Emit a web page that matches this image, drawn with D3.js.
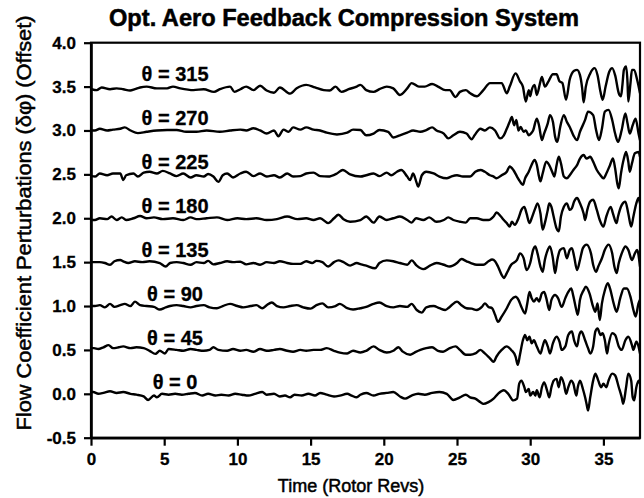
<!DOCTYPE html>
<html>
<head>
<meta charset="utf-8">
<script src="https://cdn.jsdelivr.net/npm/d3@7"></script>
<style>
  body { margin: 0; background: #fff; }
  svg { display: block; }
  .tick text { font-family: "Liberation Sans", Arial, sans-serif; font-weight: bold; font-size: 17px; fill: #000; stroke: #000; stroke-width: 0.3px; }
</style>
</head>
<body>
<div id="chart"></div>
<script>
// Sensor angles and the offset each trace is drawn at
const angles = [0, 45, 90, 135, 180, 225, 270, 315];
const offsets = [0.0, 0.5, 1.0, 1.5, 2.0, 2.5, 3.0, 3.5];

// Tick labels
const xTicks = [0, 5, 10, 15, 20, 25, 30, 35];
const yTicks = [-0.5, 0.0, 0.5, 1.0, 1.5, 2.0, 2.5, 3.0, 3.5, 4.0];

// Perturbation traces, [time (rotor revs), delta phi]
const theta0 = [[0.05,0.02],[0.15,0.02],[0.5,0.0],[0.85,0.01],[1.3,0.03],[1.75,0.01],[2.2,0.02],[2.7,0.0],[3.1,-0.01],[3.6,-0.03],[3.9,-0.07],[4.3,-0.02],[4.5,-0.04],[4.85,0.0],[5.3,-0.01],[5.75,0.0],[6.2,-0.01],[6.65,0.0],[7.1,0.01],[7.6,-0.02],[8.0,0.0],[8.5,-0.02],[8.9,-0.01],[9.4,-0.02],[9.85,0.0],[10.3,-0.01],[10.75,-0.02],[11.2,0.0],[11.7,0.02],[12.0,-0.01],[12.5,0.0],[12.9,-0.03],[13.25,-0.02],[13.6,-0.04],[13.9,-0.01],[14.4,-0.02],[14.85,0.0],[15.3,-0.02],[15.65,0.01],[16.1,-0.01],[16.6,-0.03],[17.0,-0.02],[17.5,0.0],[17.8,-0.02],[18.15,-0.04],
  [18.4,-0.01],[18.8,0.01],[19.3,-0.02],[19.7,0.0],[20.2,0.01],[20.65,0.02],[21.1,-0.03],[21.45,-0.055],[21.9,-0.02],[22.35,0.0],[22.8,-0.01],[23.3,0.01],[23.8,0.02],[24.3,0.0],[24.75,-0.07],[25.2,-0.04],[25.6,-0.01],
  [25.9,-0.04],[26.25,-0.055],[26.6,-0.095],[26.8,-0.115],[27.15,-0.095],[27.5,-0.055],[27.8,0.0],[28.2,0.04],[28.5,0.0],[28.85,-0.075],[29.1,-0.055],[29.25,0.115],[29.4,0.15],[29.6,0.075],[29.7,0.02],[29.9,0.055],[30.0,-0.02],[30.2,0.02],[30.35,-0.02],[30.45,0.04],[30.65,-0.04],[30.8,0.075],[30.95,0.13],[31.15,0.04],[31.3,-0.04],[31.45,0.075],[31.6,0.15],[31.8,0.17],[31.95,0.075],[32.1,0.19],[32.3,0.115],[32.45,0.0],[32.6,0.075],[32.8,0.15],[32.95,0.115],[33.15,-0.02],[33.25,0.075],[33.4,0.15],[33.6,0.055],[33.75,-0.04],[33.85,-0.115],[33.95,-0.19],[34.1,-0.04],[34.3,0.15],[34.45,0.23],[34.65,0.15],[34.85,0.075],[35.0,0.115],[35.2,0.075],[35.35,0.15],[35.6,0.23],[35.8,0.21],[36.05,0.075],[36.25,-0.04],[36.35,-0.115],[36.55,0.075],[36.7,0.23],[36.9,0.15],[37.0,-0.04],[37.1,-0.075],[37.25,0.075],[37.4,0.15],[37.5,0.115]];

const theta45 = [[0.05,0.02],[0.2,0.02],[0.5,0.01],[0.85,0.03],[1.2,0.055],[1.5,0.02],[1.9,0.03],[2.2,0.04],[2.7,0.02],[3.1,0.03],[3.6,0.02],[4.0,-0.01],[4.4,-0.045],[4.7,-0.01],[5.05,-0.04],[5.3,0.01],[5.85,0.0],[6.3,-0.01],[6.8,0.01],[7.2,0.0],[7.7,-0.01],[8.1,0.0],[8.36,0.03],[8.7,0.0],[9.3,-0.01],[9.7,0.01],[10.2,-0.01],[10.6,0.0],[11.1,-0.02],[11.55,0.01],[12.0,-0.01],[12.5,0.0],[12.9,0.01],[13.4,-0.01],[13.8,-0.02],[14.3,0.0],[14.7,-0.01],[15.2,0.0],[15.65,0.0],[16.1,0.02],[16.6,-0.01],[17.0,-0.03],[17.5,-0.04],[17.9,-0.01],
  [18.4,-0.03],[18.8,-0.01],[19.3,0.04],[19.7,0.0],[20.2,-0.03],[20.65,-0.01],[21.0,0.03],[21.3,-0.02],[21.8,-0.055],[22.1,-0.03],[22.5,0.0],[22.9,0.02],[23.3,0.03],[23.7,-0.01],[24.05,-0.02],[24.5,0.02],[24.9,0.04],[25.2,0.0],[25.6,-0.055],
  [25.9,-0.055],[26.25,-0.04],[26.6,0.0],[26.9,-0.04],[27.25,-0.095],[27.5,-0.135],[27.7,-0.075],[28.05,0.0],[28.4,0.04],[28.7,0.0],[29.0,-0.075],[29.15,-0.17],[29.3,-0.055],[29.5,0.11],[29.65,0.17],[29.8,0.11],[29.95,0.15],[30.1,0.075],[30.25,0.11],[30.45,0.04],[30.7,-0.04],[30.85,0.04],[31.0,0.11],[31.2,0.04],[31.35,-0.04],[31.55,0.075],[31.8,0.15],[32.0,0.095],[32.15,0.0],[32.4,0.04],[32.6,0.17],[32.85,0.21],[33.0,0.11],[33.2,0.04],[33.35,0.17],[33.5,0.21],[33.75,0.11],[33.95,0.02],[34.1,-0.04],[34.3,0.04],[34.45,0.21],[34.6,0.245],[34.8,0.17],[34.95,0.19],[35.1,0.11],[35.25,-0.04],[35.35,0.055],[35.6,0.19],[35.8,0.17],[36.05,0.04],[36.25,0.0],[36.5,0.11],[36.7,0.15],[36.95,0.055],[37.05,0.0],[37.25,0.095],[37.4,0.04],[37.5,-0.04]];

const theta90 = [[0.05,0.0],[0.27,0.0],[0.6,0.01],[0.95,-0.015],[1.3,0.025],[1.6,-0.01],[2.0,0.01],[2.3,0.025],[2.7,0.0],[3.0,0.05],[3.35,0.01],[3.8,0.0],[4.3,-0.01],[4.7,-0.04],[5.1,-0.015],[5.4,0.0],[5.85,0.01],[6.3,0.0],[6.8,-0.015],[7.2,0.0],[7.7,0.01],[8.1,-0.015],[8.6,-0.025],[9.0,0.0],[9.5,0.025],[10.0,0.0],[10.4,-0.015],[10.9,0.0],[11.3,0.01],[11.7,-0.025],[12.0,0.01],[12.35,0.04],[12.7,0.0],[13.15,-0.015],[13.6,0.0],[14.05,0.01],[14.5,-0.015],[15.0,-0.03],[15.4,0.01],[15.8,0.03],[16.2,-0.015],[16.7,0.0],[17.0,0.025],[17.5,-0.025],[17.9,-0.04],
  [18.4,-0.025],[18.8,-0.01],[19.3,0.025],[19.7,0.04],[20.2,0.0],[20.65,-0.015],[21.1,0.0],[21.6,-0.01],[21.9,0.025],[22.25,-0.045],[22.6,-0.075],[22.9,-0.015],[23.4,0.0],[23.8,-0.025],[24.2,-0.045],[24.5,-0.01],[25.0,0.05],[25.3,0.01],[25.65,-0.025],
  [26.0,-0.03],[26.35,-0.045],[26.7,-0.01],[26.9,0.03],[27.15,-0.01],[27.4,-0.025],[27.6,-0.1],[27.8,-0.18],[28.05,-0.12],[28.4,-0.025],[28.7,0.07],[29.0,0.105],[29.2,0.07],[29.4,-0.01],[29.65,-0.085],[29.8,0.03],[29.95,0.16],[30.1,0.09],[30.25,0.05],[30.45,0.09],[30.6,0.05],[30.8,0.145],[30.95,0.16],[31.1,0.09],[31.3,-0.045],[31.45,0.07],[31.7,0.125],[31.9,0.09],[32.15,-0.01],[32.4,0.09],[32.6,0.16],[32.8,0.2],[32.95,0.11],[33.15,-0.045],[33.25,-0.1],[33.4,0.07],[33.65,0.18],[33.8,0.22],[34.05,0.145],[34.3,-0.01],[34.45,-0.065],[34.6,0.03],[34.75,-0.16],[34.9,0.03],[35.1,0.18],[35.3,0.26],[35.45,0.2],[35.7,0.03],[35.9,-0.065],[36.15,0.09],[36.4,0.2],[36.6,0.2],[36.85,0.105],[37.05,-0.045],[37.2,-0.12],[37.4,0.03],[37.5,0.07]];

const theta135 = [[0.05,0.0],[0.27,0.0],[0.6,0.0],[0.95,-0.01],[1.3,-0.03],[1.6,0.01],[2.0,0.025],[2.2,0.01],[2.55,-0.01],[3.0,0.01],[3.5,0.0],[4.0,0.01],[4.7,-0.01],[5.1,-0.05],[5.4,-0.01],[5.85,0.0],[6.3,-0.01],[6.8,-0.03],[7.2,0.0],[7.7,-0.01],[8.0,0.015],[8.36,-0.025],[8.8,-0.01],[9.3,0.01],[9.7,0.0],[10.2,0.005],[10.6,-0.025],[11.1,-0.01],[11.55,-0.03],[12.0,0.0],[12.5,-0.01],[12.9,0.01],[13.4,-0.01],[13.8,-0.02],[14.3,-0.02],[14.7,0.01],[15.1,-0.01],[15.4,0.015],[15.8,0.0],[16.2,-0.05],[16.6,0.0],[16.9,0.02],[17.25,0.0],[17.7,-0.04],[18.15,-0.01],
  [18.45,-0.025],[18.8,-0.04],[19.4,-0.07],[19.7,-0.01],[20.2,0.02],[20.65,0.01],[21.1,-0.01],[21.6,-0.03],[21.9,0.02],[22.25,-0.04],[22.7,-0.08],[23.15,-0.04],[23.6,-0.01],[24.1,-0.03],[24.5,-0.05],[25.0,-0.01],[25.3,0.035],[25.65,0.01],
  [25.95,-0.01],[26.35,-0.03],[26.8,-0.03],[27.15,0.01],[27.4,0.03],[27.6,0.01],[27.8,-0.05],[28.05,-0.145],[28.2,-0.18],[28.4,-0.125],[28.7,-0.03],[29.1,0.025],[29.3,0.1],[29.55,0.045],[29.75,-0.09],[30.0,-0.01],[30.2,0.14],[30.35,0.18],[30.5,0.1],[30.7,-0.05],[30.85,-0.11],[31.0,0.025],[31.2,0.14],[31.35,0.18],[31.55,0.045],[31.7,-0.125],[31.85,0.025],[32.05,0.14],[32.3,0.16],[32.5,0.045],[32.7,0.14],[32.85,0.16],[33.0,0.065],[33.2,-0.09],[33.4,0.025],[33.6,0.16],[33.85,0.2],[34.15,0.1],[34.3,-0.03],[34.5,-0.11],[34.65,-0.05],[34.9,0.045],[35.1,0.14],[35.35,0.2],[35.6,0.1],[35.75,-0.05],[35.9,-0.125],[36.05,-0.01],[36.3,0.12],[36.5,0.18],[36.7,0.14],[36.95,0.025],[37.15,0.1],[37.3,0.14],[37.5,-0.05]];

const theta180 = [[0.05,-0.02],[0.27,-0.02],[0.6,0.0],[1.1,-0.01],[1.4,0.02],[1.75,-0.02],[2.1,0.01],[2.4,-0.02],[2.9,0.0],[3.35,0.025],[3.8,0.0],[4.3,0.01],[4.9,-0.01],[5.6,0.0],[6.3,-0.02],[6.8,0.01],[7.2,-0.01],[7.9,0.0],[8.6,0.01],[9.3,-0.02],[10.0,0.0],[10.6,-0.01],[11.3,0.0],[12.0,-0.02],[12.7,-0.01],[13.4,0.02],[14.1,-0.01],[14.7,0.0],[15.2,-0.02],[15.65,0.0],[16.2,-0.055],[16.6,0.0],[16.9,0.04],[17.25,-0.01],[17.7,-0.04],
  [18.4,-0.02],[18.8,0.02],[19.3,-0.05],[19.7,0.02],[20.2,-0.02],[20.65,0.0],[21.1,0.02],[21.6,-0.02],[21.9,-0.05],[22.2,0.0],[22.7,-0.02],[23.1,0.01],[23.6,-0.04],[24.1,-0.02],[24.4,0.01],[24.75,-0.02],[25.2,-0.04],[25.6,-0.05],
  [25.9,0.0],[26.35,0.0],[26.8,-0.02],[27.15,-0.02],[27.5,0.02],[27.7,0.065],[28.0,0.02],[28.2,-0.02],[28.4,-0.055],[28.6,-0.095],[28.75,-0.04],[28.95,-0.075],[29.2,0.0],[29.4,0.095],[29.6,0.13],[29.75,0.055],[29.95,-0.055],[30.1,0.0],[30.35,0.115],[30.5,0.17],[30.7,0.055],[30.85,-0.13],[31.0,-0.055],[31.2,0.095],[31.3,0.17],[31.45,0.13],[31.6,0.02],[31.8,-0.115],[31.95,-0.15],[32.1,0.02],[32.3,0.13],[32.5,0.17],[32.7,0.095],[32.85,0.115],[33.0,0.19],[33.2,0.23],[33.4,0.17],[33.65,0.055],[33.75,-0.02],[33.9,0.095],[34.1,0.19],[34.3,0.21],[34.55,0.095],[34.75,-0.02],[35.0,-0.095],[35.2,0.02],[35.5,0.13],[35.65,0.055],[35.9,-0.055],[36.0,0.02],[36.25,0.15],[36.5,0.19],[36.7,0.055],[36.9,-0.095],[37.05,0.02],[37.25,0.17],[37.4,0.23],[37.5,0.17]];

const theta225 = [[0.05,-0.02],[0.27,-0.025],[0.6,0.01],[1.1,-0.01],[1.5,0.01],[2.0,0.01],[2.2,-0.065],[2.4,-0.01],[2.9,0.01],[3.2,-0.025],[3.6,0.02],[4.0,0.03],[4.5,0.01],[4.9,0.04],[5.4,0.01],[5.85,-0.02],[6.3,0.01],[6.8,-0.035],[7.2,-0.01],[7.7,-0.025],[8.0,0.005],[8.36,-0.025],[8.7,-0.085],[9.0,-0.01],[9.3,0.01],[9.7,-0.035],[10.2,0.01],[10.6,0.03],[11.1,-0.02],[11.55,0.01],[12.0,-0.025],[12.5,-0.01],[12.9,-0.035],[13.4,0.01],[13.8,-0.025],[14.3,-0.02],[14.7,0.01],[15.2,0.02],[15.65,-0.02],[16.2,-0.025],[16.8,0.01],[17.2,0.05],[17.7,0.0],
  [18.4,-0.025],[18.8,-0.01],[19.3,0.01],[19.7,-0.02],[20.2,0.02],[20.5,-0.01],[20.9,0.03],[21.2,0.05],[21.6,-0.025],[21.8,-0.065],[22.0,0.01],[22.25,-0.1],[22.35,-0.14],[22.6,-0.01],[22.9,0.03],[23.4,0.01],[23.8,-0.025],[24.3,-0.045],[24.6,-0.025],[25.0,-0.01],[25.4,-0.025],
  [25.9,-0.025],[26.25,0.03],[26.6,0.05],[26.9,0.03],[27.25,-0.01],[27.5,-0.025],[27.7,-0.045],[28.05,-0.01],[28.4,0.03],[28.6,0.09],[28.85,0.05],[29.1,-0.025],[29.3,-0.08],[29.5,-0.12],[29.65,-0.045],[29.9,0.03],[30.1,0.11],[30.3,0.165],[30.45,0.11],[30.6,-0.025],[30.7,-0.08],[30.85,0.01],[31.1,0.145],[31.3,0.105],[31.5,0.03],[31.65,-0.025],[31.8,0.105],[31.95,0.2],[32.1,0.125],[32.3,-0.025],[32.5,-0.045],[32.7,-0.01],[32.95,0.05],[33.2,0.105],[33.4,0.18],[33.65,0.22],[33.85,0.18],[34.1,0.2],[34.3,0.145],[34.55,0.05],[34.8,-0.01],[35.0,-0.045],[35.2,0.01],[35.45,0.105],[35.65,0.18],[35.8,0.07],[35.95,-0.105],[36.05,-0.16],[36.2,0.01],[36.4,0.18],[36.55,0.255],[36.7,0.145],[36.8,0.03],[36.95,0.125],[37.15,0.24],[37.4,0.255],[37.5,0.2]];

const theta270 = [[0.05,0.0],[0.27,0.0],[0.6,0.02],[1.1,0.0],[1.5,0.01],[2.0,0.02],[2.3,0.035],[2.7,0.0],[3.2,-0.03],[3.8,-0.015],[4.5,0.0],[5.2,0.005],[5.85,0.005],[6.5,-0.015],[7.2,-0.015],[7.9,0.0],[8.8,-0.015],[9.5,0.0],[10.2,0.01],[10.6,0.0],[11.1,0.025],[11.55,0.0],[12.0,-0.035],[12.5,0.0],[12.8,-0.065],[13.15,0.01],[13.5,-0.015],[13.8,0.035],[14.3,0.01],[14.7,0.035],[15.2,0.01],[15.65,0.0],[16.1,-0.025],[16.8,-0.045],[17.5,-0.025],[17.9,0.01],
  [18.4,0.005],[18.8,-0.055],[19.3,-0.035],[19.7,0.005],[20.3,-0.015],[20.65,-0.08],[21.1,-0.055],[21.6,-0.025],[22.0,0.0],[22.5,-0.015],[22.9,0.005],[23.3,0.035],[23.6,0.0],[24.1,-0.035],[24.4,-0.09],[24.75,-0.055],[25.2,-0.015],[25.65,-0.035],
  [26.0,-0.1],[26.2,-0.055],[26.6,0.02],[26.9,0.0],[27.25,0.035],[27.6,0.0],[27.95,-0.09],[28.2,-0.055],[28.4,0.02],[28.6,0.1],[28.75,0.155],[28.9,0.06],[29.05,0.12],[29.2,0.0],[29.35,0.04],[29.55,-0.015],[29.7,0.0],[29.9,-0.055],[30.05,-0.035],[30.2,0.0],[30.45,0.135],[30.6,0.06],[30.8,-0.11],[30.95,-0.035],[31.2,0.08],[31.35,0.175],[31.55,0.1],[31.7,-0.07],[31.85,-0.13],[32.05,0.04],[32.3,0.175],[32.5,0.1],[32.7,0.04],[32.95,-0.055],[33.2,-0.11],[33.4,-0.015],[33.75,0.12],[33.95,0.215],[34.3,0.175],[34.5,0.005],[34.7,-0.11],[34.9,0.02],[35.1,0.215],[35.35,0.235],[35.6,0.12],[35.8,-0.035],[36.0,-0.13],[36.25,0.005],[36.5,0.195],[36.65,0.08],[36.8,-0.035],[37.0,0.06],[37.2,0.135],[37.4,-0.035],[37.5,-0.11]];

const theta315 = [[0.05,-0.03],[0.39,-0.04],[0.73,-0.01],[1.3,-0.03],[1.75,-0.02],[2.2,-0.03],[2.67,-0.045],[3.0,-0.03],[3.35,-0.01],[3.8,0.0],[4.5,-0.02],[5.2,-0.02],[5.6,0.0],[6.1,-0.02],[7.0,-0.04],[7.7,-0.03],[8.4,-0.06],[8.8,-0.03],[9.5,0.0],[9.8,-0.06],[10.2,-0.03],[10.6,0.0],[11.1,-0.04],[11.55,0.01],[12.0,-0.045],[12.5,-0.07],[12.9,-0.01],[13.6,-0.08],[14.05,-0.02],[14.7,0.02],[15.3,-0.01],[15.9,-0.04],[16.3,-0.045],[16.7,0.0],[17.1,-0.06],[17.6,-0.03],[18.15,0.0],
  [18.4,0.02],[18.8,-0.04],[19.3,-0.06],[19.7,-0.03],[20.2,0.0],[20.65,-0.02],[21.1,-0.095],[21.6,-0.02],[21.9,0.04],[22.4,0.0],[22.8,0.0],[23.3,0.03],[23.7,0.0],[24.2,-0.04],[24.5,-0.04],[24.9,-0.12],[25.2,-0.06],[25.6,-0.04],
  [25.9,-0.076],[26.35,-0.11],[26.8,-0.04],[27.25,0.04],[28.05,0.04],[28.4,-0.076],[28.6,0.0],[29.0,0.15],[29.3,0.06],[29.5,0.0],[29.7,-0.17],[29.9,-0.04],[30.0,-0.11],[30.1,-0.04],[30.3,0.02],[30.45,-0.095],[30.7,0.06],[30.8,0.11],[31.0,0.0],[31.25,0.06],[31.55,0.14],[31.8,0.14],[32.0,0.06],[32.2,0.04],[32.45,-0.15],[32.7,0.08],[33.0,0.18],[33.2,0.19],[33.4,0.13],[33.55,-0.02],[33.65,-0.18],[33.8,0.0],[34.1,0.15],[34.4,0.21],[34.6,0.13],[34.8,-0.06],[34.95,-0.15],[35.15,0.0],[35.4,0.17],[35.6,0.21],[35.8,0.13],[36.05,-0.076],[36.2,-0.11],[36.3,0.02],[36.4,0.19],[36.55,0.23],[36.65,0.04],[36.7,-0.17],[36.85,0.04],[36.95,0.19],[37.1,0.19],[37.3,0.08],[37.5,-0.076]];

const traces = [theta0, theta45, theta90, theta135, theta180, theta225, theta270, theta315];

//******************************************************************************************** */
const width = 644;
const height = 498;
const font = '"Liberation Sans", Arial, sans-serif';

const svg = d3.select("#chart")
  .append("svg")
  .attr("width", width)
  .attr("height", height);

const x = d3.scaleLinear().domain([0, 37.5]).range([91, 640]);
const y = d3.scaleLinear().domain([-0.5, 4.0]).range([437.7, 42.7]);

// Clip the traces to the plot box
svg.append("defs")
  .append("clipPath")
  .attr("id", "plot-clip")
  .append("rect")
  .attr("x", x(0))
  .attr("y", y(4.0))
  .attr("width", x(37.5) - x(0))
  .attr("height", y(-0.5) - y(4.0));

// Traces
const line = (offset) => d3.line()
  .x((d) => x(d[0]))
  .y((d) => y(offset + d[1]))
  .curve(d3.curveMonotoneX);

svg.append("g")
  .attr("clip-path", "url(#plot-clip)")
  .selectAll("path")
  .data(traces)
  .enter()
  .append("path")
  .attr("d", (d, i) => line(offsets[i])(d))
  .attr("fill", "none")
  .attr("stroke", "#000")
  .attr("stroke-width", 2.4)
  .attr("stroke-linejoin", "round");

// Frame (top and right side)
svg.append("rect")
  .attr("x", x(0))
  .attr("y", y(4.0))
  .attr("width", x(37.5) - x(0))
  .attr("height", y(-0.5) - y(4.0))
  .attr("fill", "none")
  .attr("stroke", "#000")
  .attr("stroke-width", 2.2);

// Axes
const xAxis = d3.axisBottom(x)
  .tickValues(xTicks)
  .tickSize(8)
  .tickPadding(7)
  .tickSizeOuter(0);

const yAxis = d3.axisLeft(y)
  .tickValues(yTicks)
  .tickFormat((d) => d.toFixed(1))
  .tickSize(7)
  .tickPadding(8)
  .tickSizeOuter(0);

const gx = svg.append("g")
  .attr("transform", `translate(0,${y(-0.5)})`)
  .call(xAxis);

const gy = svg.append("g")
  .attr("transform", `translate(${x(0)},0)`)
  .call(yAxis);

[gx, gy].forEach((g) => {
  g.select(".domain").attr("stroke-width", 2.6);
  g.selectAll(".tick line").attr("stroke-width", 2.2);
});

// Angle labels over each trace
svg.append("g")
  .selectAll("text")
  .data(angles)
  .enter()
  .append("text")
  .attr("x", x(5.74))
  .attr("y", (d, i) => y(offsets[i] + 0.06))
  .attr("text-anchor", "middle")
  .style("font-family", font)
  .style("font-weight", "bold")
  .style("font-size", "20px")
  .style("stroke", "#000")
  .style("stroke-width", 0.3)
  .text((d) => `θ = ${d}`);

// Titles
svg.append("text")
  .attr("x", 344)
  .attr("y", 26)
  .attr("text-anchor", "middle")
  .attr("textLength", 470)
  .attr("lengthAdjust", "spacingAndGlyphs")
  .style("font-family", font)
  .style("font-weight", "bold")
  .style("font-size", "23px")
  .style("stroke", "#000")
  .style("stroke-width", 0.5)
  .text("Opt. Aero Feedback Compression System");

svg.append("text")
  .attr("x", 351)
  .attr("y", 492)
  .attr("text-anchor", "middle")
  .style("font-family", font)
  .style("font-size", "18px")
  .style("stroke", "#000")
  .style("stroke-width", 0.5)
  .text("Time (Rotor Revs)");

svg.append("text")
  .attr("transform", "translate(31,223) rotate(-90)")
  .attr("text-anchor", "middle")
  .attr("textLength", 415)
  .attr("lengthAdjust", "spacingAndGlyphs")
  .style("font-family", font)
  .style("font-size", "21px")
  .style("stroke", "#000")
  .style("stroke-width", 0.5)
  .text("Flow Coefficient Perturbations (δφ) (Offset)");
</script>
</body>
</html>
